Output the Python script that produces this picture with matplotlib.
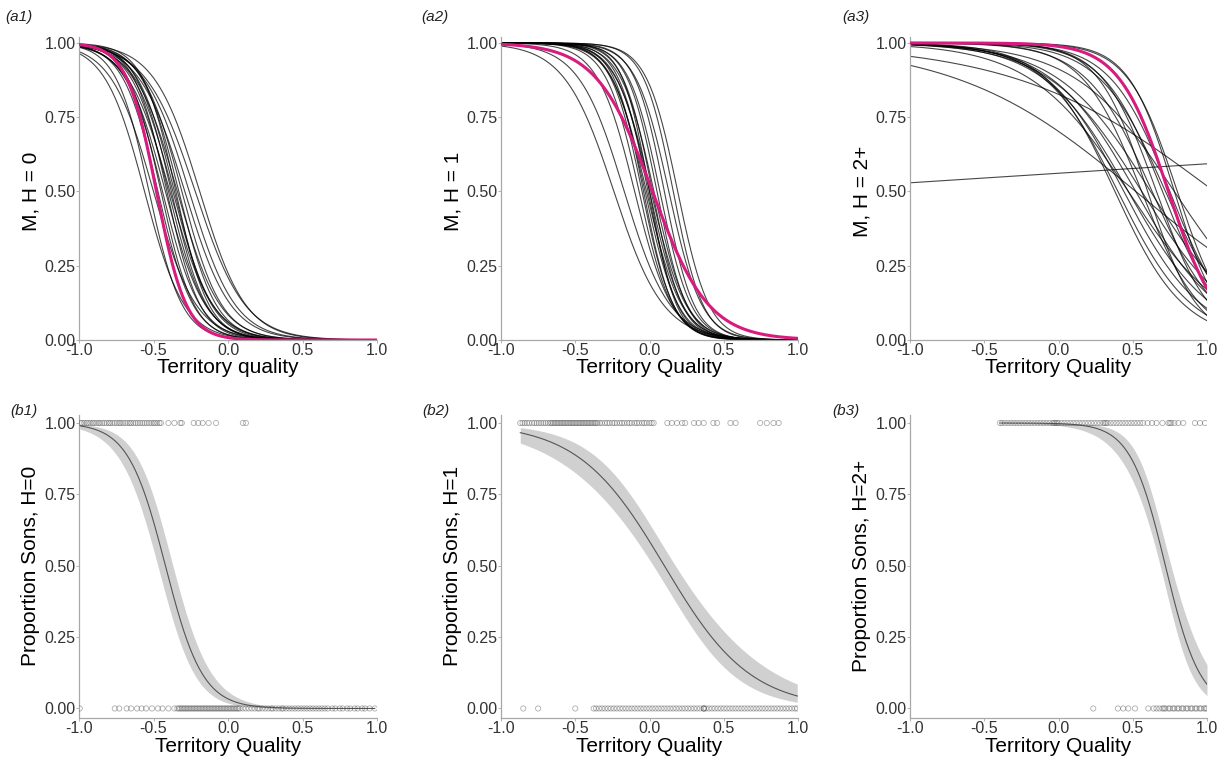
import numpy as np
import matplotlib
matplotlib.use("Agg")
import matplotlib.pyplot as plt

plt.rcParams['font.family'] = ['Liberation Sans', 'DejaVu Sans']

# ---------------- data ----------------
# Top row: fitted logistic curves, each given by its midpoint (x at 0.5) and steepness
a1_mid = [-0.56, -0.53, -0.50, -0.47, -0.45, -0.44, -0.42, -0.41, -0.40, -0.39, -0.38,
          -0.37, -0.36, -0.35, -0.34, -0.33, -0.31, -0.29, -0.26, -0.22, -0.19]
a1_k = [7.5, 9.0, 7.0, 8.5, 9.0, 8.0, 7.5, 9.0, 8.0, 7.0, 8.5,
        7.5, 8.0, 9.0, 7.0, 8.0, 7.5, 6.5, 6.5, 6.0, 6.5]
a1_pink = (-0.48, 10.0)

a2_mid = [-0.24, -0.17, -0.10, -0.07, -0.05, -0.04, -0.03, -0.02, -0.01, 0.00,
          0.00, 0.01, 0.02, 0.03, 0.05, 0.07, 0.10, 0.13, 0.16, 0.19]
a2_k = [6.0, 6.5, 8.0, 9.0, 9.5, 10.0, 9.0, 8.5, 10.0, 9.0,
        11.0, 8.5, 10.0, 9.0, 10.0, 9.5, 10.0, 9.0, 10.0, 9.5]
a2_pink = (0.02, 5.3)

a3_mid = [-1.9, 0.52, 1.05, 0.78, 0.38, 0.40, 0.44, 0.47, 0.47, 0.52, 0.56,
          0.56, 0.60, 0.62, 0.63, 0.66, 0.70, 0.72, 0.75, 0.80, 0.78]
a3_k = [-0.13, 1.65, 1.49, 3.0, 4.3, 4.0, 3.8, 3.5, 3.0, 3.5, 3.2,
        5.0, 6.0, 3.2, 4.5, 5.5, 5.0, 4.5, 5.0, 6.0, 6.5]
a3_pink = (0.74, 6.0)

# Bottom row: observations (sons = 1, daughters = 0) by territory quality
b1_ones = [-0.99, -0.98, -0.965, -0.95, -0.94, -0.925, -0.91, -0.90, -0.885, -0.87, -0.86,
           -0.845, -0.83, -0.815, -0.80, -0.79, -0.775, -0.76, -0.745, -0.73, -0.72, -0.705,
           -0.69, -0.675, -0.66, -0.65, -0.635, -0.62, -0.605, -0.59, -0.575, -0.56, -0.545,
           -0.53, -0.515, -0.50, -0.49, -0.475, -0.46, -0.45, -0.40, -0.36, -0.32, -0.31,
           -0.23, -0.20, -0.17, -0.13, -0.08, 0.10, 0.12]
b1_zeros = [-0.995, -0.76, -0.73, -0.68, -0.65, -0.61, -0.58, -0.55, -0.51, -0.47, -0.44,
            -0.40, -0.36, -0.34, -0.33, -0.32, -0.31, -0.30, -0.29, -0.28, -0.27, -0.26,
            -0.25, -0.24, -0.23, -0.22, -0.21, -0.20, -0.19, -0.18, -0.17, -0.16, -0.15,
            -0.14, -0.13, -0.12, -0.11, -0.10, -0.09, -0.08, -0.07, -0.06, -0.05, -0.04,
            -0.03, -0.02, -0.01, 0.0, 0.01, 0.02, 0.03, 0.04, 0.05, 0.06, 0.07, 0.08, 0.10,
            0.12, 0.14, 0.16, 0.18, 0.20, 0.21, 0.23, 0.25, 0.27, 0.29, 0.30, 0.32, 0.34,
            0.36, 0.37, 0.39, 0.41, 0.43, 0.45, 0.47, 0.49, 0.51, 0.53, 0.55, 0.57, 0.59,
            0.61, 0.63, 0.65, 0.67, 0.70, 0.72, 0.75, 0.77, 0.80, 0.82, 0.85, 0.87, 0.90,
            0.92, 0.95, 0.985]

b2_ones = [-0.87, -0.855, -0.84, -0.825, -0.81, -0.79, -0.775, -0.76, -0.745, -0.73, -0.715,
           -0.70, -0.685, -0.67, -0.66, -0.65, -0.64, -0.63, -0.62, -0.61, -0.60, -0.59,
           -0.58, -0.57, -0.56, -0.55, -0.54, -0.53, -0.52, -0.51, -0.50, -0.49, -0.48,
           -0.47, -0.46, -0.45, -0.44, -0.43, -0.42, -0.41, -0.40, -0.39, -0.38, -0.37,
           -0.36, -0.35, -0.335, -0.32, -0.30, -0.285, -0.27, -0.25, -0.235, -0.22, -0.20,
           -0.185, -0.17, -0.15, -0.135, -0.12, -0.10, -0.085, -0.07, -0.05, -0.035, -0.02,
           0.0, 0.015, 0.028, 0.12, 0.15, 0.185, 0.22, 0.24, 0.30, 0.33, 0.365, 0.43, 0.455,
           0.545, 0.58, 0.745, 0.79, 0.835, 0.87]
b2_zeros = [-0.85, -0.75, -0.50, -0.376, -0.36, -0.34, -0.32, -0.30, -0.28, -0.26, -0.24,
            -0.22, -0.20, -0.18, -0.16, -0.14, -0.12, -0.10, -0.08, -0.06, -0.04, -0.02,
            0.0, 0.02, 0.04, 0.06, 0.08, 0.10, 0.12, 0.14, 0.16, 0.18, 0.20, 0.22, 0.24,
            0.26, 0.28, 0.30, 0.32, 0.34, 0.365, 0.365, 0.365, 0.38, 0.40, 0.42, 0.44, 0.46,
            0.48, 0.50, 0.52, 0.54, 0.56, 0.58, 0.60, 0.62, 0.64, 0.66, 0.68, 0.70, 0.72,
            0.74, 0.76, 0.78, 0.80, 0.82, 0.84, 0.86, 0.88, 0.90, 0.92, 0.94, 0.96, 0.98, 0.995]

b3_ones = [-0.394, -0.38, -0.36, -0.34, -0.32, -0.30, -0.28, -0.26, -0.24, -0.22, -0.20,
           -0.18, -0.16, -0.14, -0.12, -0.10, -0.08, -0.06, -0.04, -0.03, -0.02, -0.01,
           0.0, 0.02, 0.04, 0.06, 0.08, 0.10, 0.12, 0.14, 0.16, 0.18, 0.20, 0.22, 0.24, 0.26,
           0.28, 0.30, 0.31, 0.32, 0.33, 0.35, 0.37, 0.39, 0.41, 0.43, 0.45, 0.47, 0.49,
           0.51, 0.53, 0.55, 0.57, 0.60, 0.63, 0.66, 0.70, 0.74, 0.75, 0.76, 0.78, 0.807,
           0.84, 0.919, 0.953, 0.987]
b3_zeros = [0.234, 0.40, 0.436, 0.47, 0.515, 0.605, 0.64, 0.66, 0.68, 0.70, 0.71, 0.72,
            0.74, 0.75, 0.77, 0.78, 0.80, 0.81, 0.83, 0.84, 0.86, 0.87, 0.89, 0.90, 0.92,
            0.93, 0.95, 0.96, 0.98, 0.99, 1.0]

# Fitted model in bottom row: (midpoint, steepness); CI half-width on logit scale (se0, se1, x0)
b1_fit = (-0.42, 8.0)
b1_ci = (0.40, 1.10, -0.40)
b2_fit = (0.10, 3.45)
b2_ci = (0.25, 0.75, 0.10)
b3_fit = (0.72, 8.5)
b3_ci = (0.30, 2.00, 0.70)

top_ylabels = ["M, H = 0", "M, H = 1", "M, H = 2+"]
top_xlabels = ["Territory quality", "Territory Quality", "Territory Quality"]
bot_ylabels = ["Proportion Sons, H=0", "Proportion Sons, H=1", "Proportion Sons, H=2+"]
bot_xlabel = "Territory Quality"
top_tags = ["(a1)", "(a2)", "(a3)"]
bot_tags = ["(b1)", "(b2)", "(b3)"]
xticks = [-1.0, -0.5, 0.0, 0.5, 1.0]
yticks = [0.0, 0.25, 0.5, 0.75, 1.0]

# ---------------- drawing ----------------
PINK = '#D81B7F'
SPINE = '#A8A8A8'
TICKC = '#333333'


def logistic(x, mid, k):
    return 1.0 / (1.0 + np.exp(k * (x - mid)))


def style(ax, ylim):
    ax.set_xlim(-1, 1)
    ax.set_ylim(*ylim)
    for s in ['top', 'right']:
        ax.spines[s].set_visible(False)
    for s in ['left', 'bottom']:
        ax.spines[s].set_color(SPINE)
        ax.spines[s].set_linewidth(0.9)
    ax.set_xticks(xticks)
    ax.set_xticklabels(['-1.0', '-0.5', '0.0', '0.5', '1.0'])
    ax.set_yticks(yticks)
    ax.set_yticklabels(['0.00', '0.25', '0.50', '0.75', '1.00'])
    ax.tick_params(axis='both', length=2, width=0.6, color=SPINE, labelsize=11.5,
                   labelcolor=TICKC, pad=0.5)


fig = plt.figure(figsize=(12.25, 7.61), dpi=100)
lefts = [79 / 1225, 501 / 1225, 910 / 1225]
widths = [298 / 1225, 297 / 1225, 297 / 1225]
tag_x = [5, 421, 842]
btag_x = [10, 422, 832]

xs = np.linspace(-1, 1, 301)
tops = [(a1_mid, a1_k, a1_pink), (a2_mid, a2_k, a2_pink), (a3_mid, a3_k, a3_pink)]
bots = [(b1_ones, b1_zeros, b1_fit, b1_ci), (b2_ones, b2_zeros, b2_fit, b2_ci),
        (b3_ones, b3_zeros, b3_fit, b3_ci)]

for i in range(3):
    # ---- top row
    ax = fig.add_axes([lefts[i], (761 - 340) / 761, widths[i], (340 - 37) / 761])
    mids, ks, pink = tops[i]
    for m, k in zip(mids, ks):
        ax.plot(xs, logistic(xs, m, k), color='black', lw=0.8, alpha=0.72, zorder=2)
    ax.plot(xs, logistic(xs, pink[0], pink[1]), color=PINK, lw=2.2, zorder=3)
    style(ax, (0, 1.02))
    ax.set_ylabel(top_ylabels[i], fontsize=15)
    ax.yaxis.set_label_coords(-0.13, 0.49)
    ax.set_xlabel(top_xlabels[i], fontsize=15)
    ax.xaxis.set_label_coords(0.5, -0.058)
    fig.text(tag_x[i] / 1225, 1 - 17 / 761, top_tags[i], fontsize=11, style='italic',
             ha='left', va='center', color='#222222')

    # ---- bottom row
    ax = fig.add_axes([lefts[i], (761 - 717.6) / 761, widths[i], (717.6 - 415) / 761])
    ones, zeros, fit, ci = bots[i]
    allx = np.array(ones + zeros)
    xf = np.linspace(allx.min(), allx.max(), 301)
    eta = -fit[1] * (xf - fit[0])
    h = np.sqrt(ci[0] ** 2 + ci[1] ** 2 * (xf - ci[2]) ** 2)
    lo = 1 / (1 + np.exp(-(eta - h)))
    hi = 1 / (1 + np.exp(-(eta + h)))
    ax.fill_between(xf, lo, hi, color='#D0D0D0', lw=0, zorder=1)
    ax.plot(xf, 1 / (1 + np.exp(-eta)), color='#555555', lw=0.8, zorder=2)
    ax.scatter(ones, np.ones(len(ones)), s=14, facecolors='none', edgecolors='#4a4a4a',
               linewidths=0.6, alpha=0.45, zorder=3)
    ax.scatter(zeros, np.zeros(len(zeros)), s=14, facecolors='none', edgecolors='#4a4a4a',
               linewidths=0.6, alpha=0.45, zorder=3)
    style(ax, (-0.032, 1.028))
    ax.set_ylabel(bot_ylabels[i], fontsize=15)
    ax.yaxis.set_label_coords(-0.13, 0.5)
    ax.set_xlabel(bot_xlabel, fontsize=15)
    ax.xaxis.set_label_coords(0.5, -0.064)
    fig.text(btag_x[i] / 1225, 1 - 411 / 761, bot_tags[i], fontsize=11, style='italic',
             ha='left', va='center', color='#222222')

fig.savefig('out.png', dpi=100)
